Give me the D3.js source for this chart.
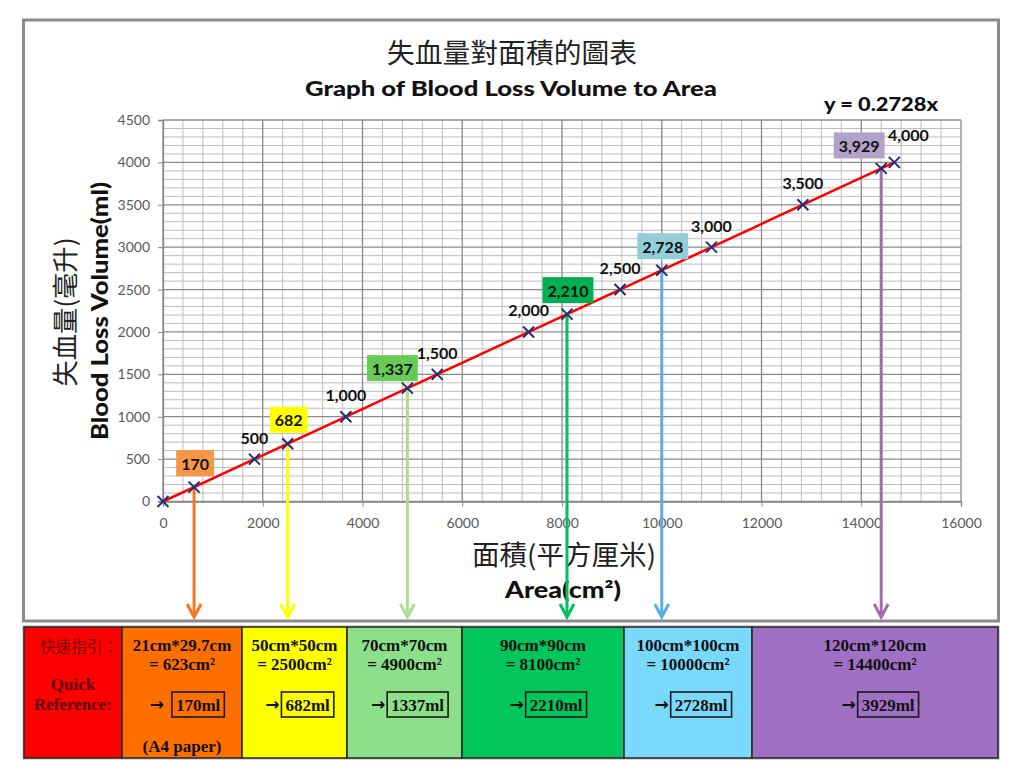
<!DOCTYPE html>
<html><head><meta charset="utf-8">
<script src="https://cdn.jsdelivr.net/npm/d3@7"></script>
<style>body{margin:0;background:#fff;} svg{display:block;}</style>
</head><body><svg id="c" width="1024" height="778"></svg>
<script>
// ---------- data ----------
const areas   = [0, 623, 1833, 2500, 3666, 4900, 5498, 7331, 8100, 9164, 10000, 10997, 12830, 14400, 14663];
const volumes = [0, 170, 500, 682, 1000, 1337, 1500, 2000, 2210, 2500, 2728, 3000, 3500, 3929, 4000];
const xTicks = [0, 2000, 4000, 6000, 8000, 10000, 12000, 14000, 16000];
const yTicks = [0, 500, 1000, 1500, 2000, 2500, 3000, 3500, 4000, 4500];
const highlightVolumes = [170, 682, 1337, 2210, 2728, 3929];
const highlightBoxColors = ["#F79646", "#FFFF00", "#66CC55", "#00B050", "#92CDDC", "#B3A2C7"];
const arrowColors = ["#F7761F", "#FFFF00", "#A9DF8F", "#00C25A", "#5AAEE6", "#A46CA9"];
const titleZh = "失血量對面積的圖表";
const titleEn = "Graph of Blood Loss Volume to Area";
const equation = "y = 0.2728x";
const yTitleZh = "失血量(毫升)";
const yTitleEn = "Blood Loss Volume(ml)";
const xTitleZh = "面積(平方厘米)";
const xTitleEn = "Area(cm²)";
const refHeader = ["快速指引：", "Quick", "Reference:"];
const refSizes = ["21cm*29.7cm", "50cm*50cm", "70cm*70cm", "90cm*90cm", "100cm*100cm", "120cm*120cm"];
const refAreas = ["= 623cm²", "= 2500cm²", "= 4900cm²", "= 8100cm²", "= 10000cm²", "= 14400cm²"];
const refVolumes = ["170ml", "682ml", "1337ml", "2210ml", "2728ml", "3929ml"];
const refNotes = ["(A4 paper)", "", "", "", "", ""];
const refFills = ["#FF0000", "#FF6F00", "#FFFF00", "#8CE08A", "#00C65C", "#79D9FA", "#A070C4"];

// ---------- layout ----------
const svg = d3.select("#c");
const x = d3.scaleLinear().domain([0, 16000]).range([163, 961]);
const y = d3.scaleLinear().domain([0, 4500]).range([501.5, 120]);
const enFont = "Lato, 'Open Sans', sans-serif";
const zhFont = "'Noto Sans CJK TC', 'Noto Sans CJK SC', sans-serif";
const serif = "'Liberation Serif', 'Times New Roman', serif";

// chart frame
svg.append("rect").attr("x", 23.5).attr("y", 20).attr("width", 975).attr("height", 601)
  .attr("fill", "#fff").attr("stroke", "#8c8c8c").attr("stroke-width", 3);

// gridlines
const g = svg.append("g");
const minorX = d3.range(0, 16001, 400).filter(v => v % 2000 !== 0);
const minorY = d3.range(0, 4501, 100).filter(v => v % 500 !== 0);
g.selectAll(".mx").data(minorX).join("line")
  .attr("x1", d => x(d)).attr("x2", d => x(d)).attr("y1", y(0)).attr("y2", y(4500))
  .attr("stroke", "#bdbdbd").attr("stroke-width", 1);
g.selectAll(".my").data(minorY).join("line")
  .attr("y1", d => y(d)).attr("y2", d => y(d)).attr("x1", x(0)).attr("x2", x(16000))
  .attr("stroke", "#bdbdbd").attr("stroke-width", 1);
g.selectAll(".Mx").data(xTicks).join("line")
  .attr("x1", d => x(d)).attr("x2", d => x(d)).attr("y1", y(0)).attr("y2", y(4500))
  .attr("stroke", "#8a8a8a").attr("stroke-width", 1.3);
g.selectAll(".My").data(yTicks).join("line")
  .attr("y1", d => y(d)).attr("y2", d => y(d)).attr("x1", x(0)).attr("x2", x(16000))
  .attr("stroke", "#8a8a8a").attr("stroke-width", 1.3);

// axes
const yAxis = svg.append("g").attr("transform", `translate(${x(0)},0)`)
  .call(d3.axisLeft(y).tickValues(yTicks).tickSize(5).tickPadding(8).tickFormat(d3.format("d")));
const xAxis = svg.append("g").attr("transform", `translate(0,${y(0)})`)
  .call(d3.axisBottom(x).tickValues(xTicks).tickSize(5).tickPadding(12).tickFormat(d3.format("d")));
[yAxis, xAxis].forEach(a => {
  a.select(".domain").attr("stroke", "#868686").attr("stroke-width", 1.3);
  a.selectAll(".tick line").attr("stroke", "#868686");
  a.selectAll("text").attr("fill", "#595959").style("font-family", enFont).style("font-size", "14px");
});

// titles
function fitText(sel, len) {
  sel.attr("textLength", len).attr("lengthAdjust", "spacingAndGlyphs");
}
svg.append("text").attr("x", 512).attr("y", 51).attr("text-anchor", "middle").attr("dominant-baseline", "central")
  .style("font-family", zhFont).style("font-size", "27px").attr("fill", "#222").text(titleZh).call(fitText, 250);
svg.append("text").attr("x", 511).attr("y", 87).attr("text-anchor", "middle").attr("dominant-baseline", "central")
  .style("font-family", enFont).style("font-weight", "900").style("font-size", "21px").attr("fill", "#111").text(titleEn).call(fitText, 412);
svg.append("text").attr("x", 881).attr("y", 103).attr("text-anchor", "middle").attr("dominant-baseline", "central")
  .style("font-family", enFont).style("font-weight", "900").style("font-size", "19px").attr("fill", "#111").text(equation).call(fitText, 114);
svg.append("text").attr("transform", "translate(63,312) rotate(-90)").attr("text-anchor", "middle").attr("dominant-baseline", "central")
  .style("font-family", zhFont).style("font-size", "26px").attr("fill", "#222").text(yTitleZh).call(fitText, 149);
svg.append("text").attr("transform", "translate(99,311) rotate(-90)").attr("text-anchor", "middle").attr("dominant-baseline", "central")
  .style("font-family", enFont).style("font-weight", "900").style("font-size", "22px").attr("fill", "#111").text(yTitleEn).call(fitText, 258);
svg.append("text").attr("x", 564).attr("y", 553).attr("text-anchor", "middle").attr("dominant-baseline", "central")
  .style("font-family", zhFont).style("font-size", "27px").attr("fill", "#222").text(xTitleZh).call(fitText, 184);
svg.append("text").attr("x", 563).attr("y", 589).attr("text-anchor", "middle").attr("dominant-baseline", "central")
  .style("font-family", enFont).style("font-weight", "900").style("font-size", "22px").attr("fill", "#111").text(xTitleEn).call(fitText, 116);

// points
const pts = areas.map((a, i) => ({ a, v: volumes[i] }));

// arrows down from highlighted points
const arrowBottom = 617;
highlightVolumes.forEach((hv, i) => {
  const p = pts.find(d => d.v === hv);
  const px = x(p.a), py = y(p.v);
  svg.append("line").attr("x1", px).attr("x2", px).attr("y1", py).attr("y2", arrowBottom - 1)
    .attr("stroke", arrowColors[i]).attr("stroke-width", 3);
  svg.append("polyline").attr("points", `${px - 7},${arrowBottom - 13} ${px},${arrowBottom} ${px + 7},${arrowBottom - 13}`)
    .attr("fill", "none").attr("stroke", arrowColors[i]).attr("stroke-width", 3).attr("stroke-linejoin", "miter");
});

// trend line through the data
const first = pts[0], last = pts[pts.length - 1];
svg.append("path").datum([first, last])
  .attr("d", d3.line().x(d => x(d.a)).y(d => y(d.v)))
  .attr("stroke", "#FF0000").attr("stroke-width", 2.5).attr("fill", "none");

// X markers
const ms = 5.5;
svg.append("g").selectAll("path").data(pts).join("path")
  .attr("d", d => `M${x(d.a) - ms},${y(d.v) - ms}L${x(d.a) + ms},${y(d.v) + ms}M${x(d.a) - ms},${y(d.v) + ms}L${x(d.a) + ms},${y(d.v) - ms}`)
  .attr("stroke", "#1F2D7A").attr("stroke-width", 2).attr("fill", "none");

// data labels
const labelShift = { 4000: [14, -28], 1337: [-15, -20], 3929: [-22, -23] };
const fmt = d3.format(",");
pts.slice(1).forEach(d => {
  const hi = highlightVolumes.indexOf(d.v);
  const sh = labelShift[d.v] || (hi >= 0 ? [1, -24] : [0, -22]);
  const cx = x(d.a) + sh[0], cy = y(d.v) + sh[1];
  const lg = svg.append("g");
  const t = lg.append("text").attr("x", cx).attr("y", cy).attr("text-anchor", "middle").attr("dominant-baseline", "central")
    .style("font-family", enFont).style("font-weight", "bold").style("font-size", "16px").attr("fill", "#111").text(fmt(d.v));
  if (hi >= 0) {
    const w = t.node().getComputedTextLength() + 10;
    lg.insert("rect", "text").attr("x", cx - w / 2).attr("y", cy - 13).attr("width", w).attr("height", 26)
      .attr("fill", highlightBoxColors[hi]);
  }
});

// ---------- quick reference table ----------
const colEdges = [24, 122, 242, 347, 462, 624, 752, 998];
const tTop = 627, tBot = 758;
const tg = svg.append("g");
tg.append("rect").attr("x", colEdges[0] - 1).attr("y", tTop - 1).attr("width", colEdges[7] - colEdges[0] + 2).attr("height", tBot - tTop + 2)
  .attr("fill", "none").attr("stroke", "#b0b0b0").attr("stroke-width", 1);
refFills.forEach((f, i) => {
  tg.append("rect").attr("x", colEdges[i]).attr("y", tTop).attr("width", colEdges[i + 1] - colEdges[i]).attr("height", tBot - tTop)
    .attr("fill", f).attr("stroke", "#2b2b2b").attr("stroke-width", 1.6);
});
function serifText(xp, yp, s, col) {
  return tg.append("text").attr("x", xp).attr("y", yp).attr("text-anchor", "middle").attr("dominant-baseline", "central")
    .style("font-family", serif).style("font-weight", "bold").style("font-size", "17px").attr("fill", col || "#111").text(s);
}
tg.append("text").attr("x", 79).attr("y", 645).attr("text-anchor", "middle").attr("dominant-baseline", "central")
  .style("font-family", zhFont).style("font-size", "17px").attr("fill", "#7a0000").text(refHeader[0]).call(fitText, 78);
serifText(73, 684, refHeader[1], "#5a0000");
serifText(73, 704, refHeader[2], "#5a0000");
refSizes.forEach((s, i) => {
  const c0 = colEdges[i + 1], c1 = colEdges[i + 2];
  const cx = (c0 + c1) / 2;
  serifText(cx, 645, s);
  serifText(cx, 664, refAreas[i]);
  if (refNotes[i]) serifText(cx, 746, refNotes[i]);
  // arrow + boxed value
  const arr = tg.append("text").attr("y", 704).attr("dominant-baseline", "central")
    .style("font-family", "'DejaVu Sans', sans-serif").style("font-weight", "bold").style("font-size", "17px").attr("fill", "#111").text("→");
  const bt = serifText(0, 705, refVolumes[i]).attr("text-anchor", "start");
  const aw = arr.node().getComputedTextLength();
  const bw = bt.node().getComputedTextLength() + 8;
  const gap = i === 0 ? 8 : 2;
  const total = aw + gap + bw;
  const start = cx - total / 2 + 5;
  arr.attr("x", start);
  const bx = start + aw + gap;
  bt.attr("x", bx + 4);
  tg.insert("rect", () => bt.node()).attr("x", bx).attr("y", 692).attr("width", bw).attr("height", 25)
    .attr("fill", "none").attr("stroke", "#1a1a1a").attr("stroke-width", 1.6);
});
</script></body></html>
